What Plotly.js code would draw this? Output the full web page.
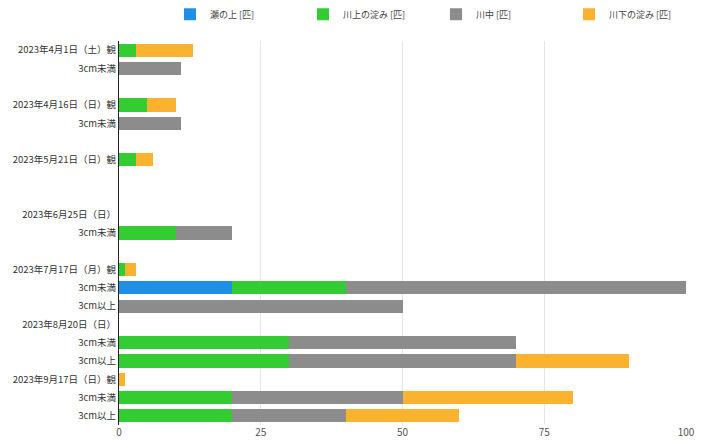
<!DOCTYPE html>
<html>
<head>
<meta charset="utf-8">
<script src="https://cdn.plot.ly/plotly-3.0.1.min.js"></script>
<style>html,body{margin:0;padding:0;background:#fff;}#chart{width:702px;height:444px;}</style>
</head>
<body>
<div id="chart"></div>
<script>
const categories = [
  "2023年4月1日（土）観", "3cm未満", "",
  "2023年4月16日（日）観", "3cm未満", "",
  "2023年5月21日（日）観", "", "",
  "2023年6月25日（日）", "3cm未満", "",
  "2023年7月17日（月）観", "3cm未満", "3cm以上",
  "2023年8月20日（日）", "3cm未満", "3cm以上",
  "2023年9月17日（日）観", "3cm未満", "3cm以上"
];
const seNoUe     = [0, 0, 0, 0, 0, 0, 0, 0, 0, 0, 0, 0, 0, 20, 0, 0, 0, 0, 0, 0, 0];
const kawakamiYodo = [3, 0, 0, 5, 0, 0, 3, 0, 0, 0, 10, 0, 1, 20, 0, 0, 30, 30, 0, 20, 20];
const kawanaka   = [0, 11, 0, 0, 11, 0, 0, 0, 0, 0, 10, 0, 0, 60, 50, 0, 40, 40, 0, 30, 20];
const kawashimoYodo = [10, 0, 0, 5, 0, 0, 3, 0, 0, 0, 0, 0, 2, 0, 0, 0, 0, 20, 1, 30, 20];
const seriesNames = ["瀬の上 [匹]", "川上の淀み [匹]", "川中 [匹]", "川下の淀み [匹]"];
const seriesColors = ["#1f8fe5", "#33cc33", "#8c8c8c", "#fbb22e"];
const xTicks = [0, 25, 50, 75, 100];

const rowIdx = categories.map((c, i) => i);
const allSeries = [seNoUe, kawakamiYodo, kawanaka, kawashimoYodo];
const traces = allSeries.map((vals, k) => ({
  type: "bar",
  orientation: "h",
  name: seriesNames[k],
  x: vals,
  y: rowIdx,
  marker: {color: seriesColors[k], line: {width: 0}},
  hoverinfo: "x+name"
}));

const font = "'Noto Sans CJK JP', 'Noto Sans', sans-serif";
const layout = {
  width: 702, height: 444,
  margin: {l: 119, r: 16, t: 41, b: 19},
  barmode: "stack",
  bargap: 0.28,
  paper_bgcolor: "#fff",
  plot_bgcolor: "#fff",
  font: {family: font, size: 10, color: "#333"},
  showlegend: true,
  legend: {
    orientation: "h",
    x: 0.177, xanchor: "left",
    y: 0.968, yanchor: "middle",
    yref: "container",
    entrywidth: 88,
    entrywidthmode: "pixels",
    traceorder: "normal",
    font: {family: font, size: 9, color: "#444"},
    itemwidth: 30
  },
  xaxis: {
    range: [0, 100],
    tickvals: xTicks,
    ticktext: xTicks.map(String),
    showgrid: true,
    gridcolor: "#e6e6e6",
    gridwidth: 1,
    zeroline: false,
    showline: false,
    ticks: "",
    tickfont: {family: font, size: 10, color: "#555"},
    fixedrange: true
  },
  yaxis: {
    range: [categories.length - 0.5, -0.5],
    tickvals: rowIdx,
    ticktext: categories,
    showgrid: false,
    zeroline: false,
    showline: true,
    linecolor: "#222",
    linewidth: 1,
    ticks: "",
    ticklen: 0,
    automargin: false,
    tickfont: {family: font, size: 9.5, color: "#333"},
    fixedrange: true
  }
};
Plotly.newPlot("chart", traces, layout, {displayModeBar: false, staticPlot: true});
</script>
</body>
</html>
